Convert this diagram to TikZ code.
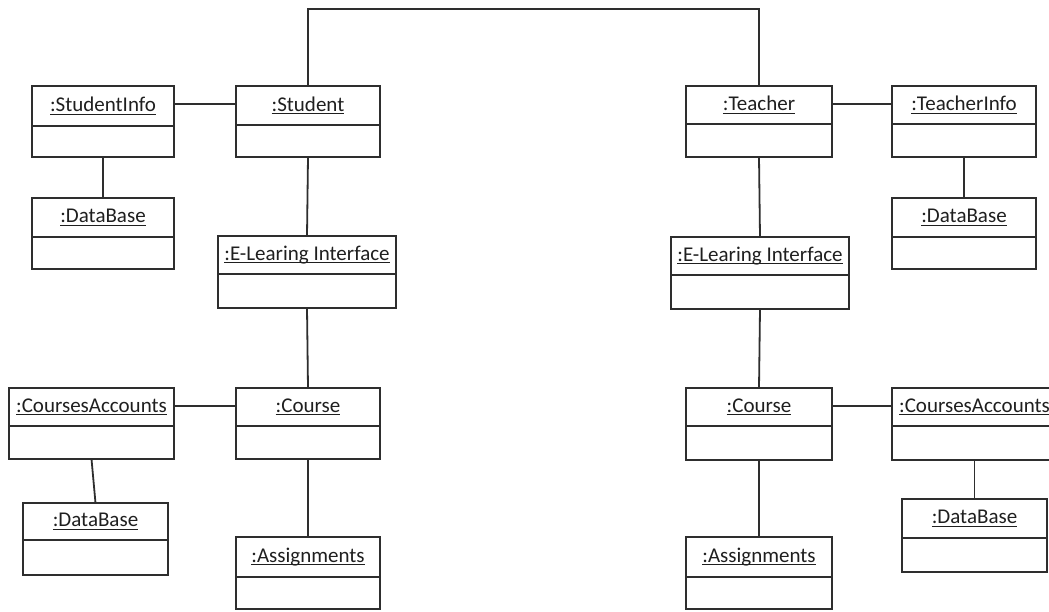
\documentclass[tikz,border=0pt]{standalone}
\usepackage{fontspec}
\setmainfont{Carlito}
\newsavebox\ulbox
% underline at a fixed depth, crossing descenders
\newcommand\ulname[1]{\sbox\ulbox{#1}\rlap{\rule[-3pt]{\wd\ulbox}{1.1pt}}\usebox\ulbox}
\tikzset{
  objbox/.style={draw=umlline, line width=1.8pt, rectangle, inner sep=0pt, outer sep=0pt},
  objline/.style={draw=umlline, line width=1.8pt},
  objtitle/.style={inner sep=0pt, outer sep=0pt, text=umltext, font=\fontsize{21}{25}\selectfont},
  link/.style={draw=umlline, line width=1.8pt},
}
\definecolor{umlline}{gray}{0.18}
\definecolor{umltext}{gray}{0.12}
% #1 name, #2 x1, #3 y1, #4 x2, #5 y2, #6 y of divider, #7 title
\newcommand\umlobject[7]{%
  \pgfmathsetmacro\objw{#4-#2}%
  \pgfmathsetmacro\objh{#5-#3}%
  \node[objbox, minimum width=\objw pt, minimum height=\objh pt] (#1) at ({(#2+#4)/2},{(#3+#5)/2}) {};
  \draw[objline] (#1.west |- 0,#6) -- (#1.east |- 0,#6);
  \node[objtitle] (#1-t) at ({(#2+#4)/2},{(#3+#6)/2}) {\ulname{#7}};
}
\begin{document}
\begin{tikzpicture}[x=1pt, y=-1pt]
\useasboundingbox (0,0) rectangle (1049,612);
\fill[white] (0,0) rectangle (1049,612);

% student side
\umlobject{sinfo}{32}{86}{174}{157}{126}{:StudentInfo}
\umlobject{student}{236}{86}{380}{157}{125}{:Student}
\umlobject{sdb}{32}{198}{174}{269}{237}{:DataBase}
\umlobject{seli}{218}{236}{396}{308}{274}{:E-Learing Interface}
\umlobject{sacc}{9}{388}{174}{459}{426}{:CoursesAccounts}
\umlobject{scourse}{236}{388}{380}{459}{426}{:Course}
\umlobject{sadb}{23}{503}{168}{575}{540}{:DataBase}
\umlobject{sasg}{236}{537}{380}{609}{577}{:Assignments}

% teacher side
\umlobject{teacher}{686}{86}{832}{157}{124}{:Teacher}
\umlobject{tinfo}{892}{86}{1036}{157}{124}{:TeacherInfo}
\umlobject{tdb}{892}{198}{1036}{269}{237}{:DataBase}
\umlobject{teli}{671}{237}{849}{309}{275}{:E-Learing Interface}
\umlobject{tcourse}{686}{388}{832}{460}{426}{:Course}
\umlobject{tacc}{892}{388}{1057}{460}{426}{:CoursesAccounts}
\umlobject{tadb}{902}{499}{1047}{572}{538}{:DataBase}
\umlobject{tasg}{686}{537}{832}{609}{577}{:Assignments}

% links
\coordinate (top) at (0,9);
\draw[link] (student.north) -- (student.north |- top) -| (teacher.north);

\draw[link] (sinfo.east |- 0,104) -- (student.west |- 0,104);
\draw[link] (sinfo.south) -- (sdb.north);
\draw[link] (student.south) -- (seli.north);
\draw[link] (seli.south) -- (scourse.north);
\draw[link] (sacc.east |- 0,406) -- (scourse.west |- 0,406);
\draw[link] (sacc.south) -- (sadb.north);
\draw[link] (scourse.south) -- (sasg.north);

\draw[link] (teacher.east |- 0,104) -- (tinfo.west |- 0,104);
\draw[link] (tinfo.south) -- (tdb.north);
\draw[link] (teacher.south) -- (teli.north);
\draw[link] (teli.south) -- (tcourse.north);
\draw[link] (tcourse.east |- 0,406) -- (tacc.west |- 0,406);
\draw[link] (tacc.south) -- (tadb.north);
\draw[link] (tcourse.south) -- (tasg.north);
\end{tikzpicture}
\end{document}
